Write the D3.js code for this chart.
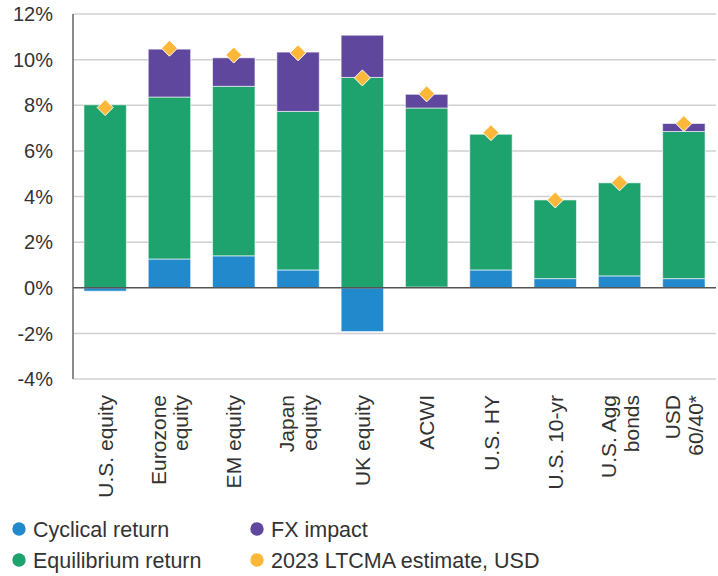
<html>
<script src="https://cdn.jsdelivr.net/npm/d3@7"></script>
<body style="margin:0">
<svg width="718" height="576"></svg>
<script>
// asset classes, label lines, return components (%)
var categories = ["U.S. equity", "Eurozone equity", "EM equity", "Japan equity", "UK equity", "ACWI", "U.S. HY", "U.S. 10-yr", "U.S. Agg bonds", "USD 60/40*"];
var labelLines = [["U.S. equity"], ["Eurozone", "equity"], ["EM equity"], ["Japan", "equity"], ["UK equity"], ["ACWI"], ["U.S. HY"], ["U.S. 10-yr"], ["U.S. Agg", "bonds"], ["USD", "60/40*"]];
var cyclical = [-0.15, 1.26, 1.4, 0.78, -1.92, 0.03, 0.78, 0.4, 0.52, 0.4];
var equilibrium = [8.02, 7.1, 7.43, 6.95, 9.22, 7.85, 5.95, 3.45, 4.08, 6.45];
var fxImpact = [0, 2.1, 1.25, 2.6, 1.85, 0.6, 0, 0, 0, 0.35];
var ltcma = [7.9, 10.5, 10.2, 10.3, 9.2, 8.5, 6.8, 3.85, 4.6, 7.2];
var yTicks = [-4, -2, 0, 2, 4, 6, 8, 10, 12];

var colors = {cyc: "#2389cd", eq: "#1fa36e", fx: "#5e479c", est: "#fdb83a"};
var font = "'Liberation Sans', Arial, sans-serif";
var textColor = "#333";

var svg = d3.select("svg");
var m = {left: 73, right: 716, top: 14, bottom: 379};

var data = categories.map(function(c, i) {
	return {cat: c, cyc: cyclical[i], eq: equilibrium[i], fx: fxImpact[i], est: ltcma[i], lines: labelLines[i]};
});

var x = d3.scaleBand()
	.domain(categories)
	.range([m.left, m.right])
	.paddingInner(0.34)
	.paddingOuter(0.17);
var y = d3.scaleLinear()
	.domain([-4, 12])
	.range([m.bottom, m.top]);

// grid
svg.append("g").selectAll("line")
	.data(yTicks.filter(function(t) { return t != 0; }))
	.enter().append("line")
	.attr("x1", m.left).attr("x2", m.right)
	.attr("y1", function(d) { return y(d); })
	.attr("y2", function(d) { return y(d); })
	.attr("stroke", "#d0d0d0")
	.attr("stroke-width", 1.5);

// y labels
svg.append("g").selectAll("text")
	.data(yTicks)
	.enter().append("text")
	.attr("x", 53)
	.attr("y", function(d) { return y(d); })
	.attr("dy", "0.36em")
	.attr("text-anchor", "end")
	.style("font-family", font)
	.style("font-size", "20px")
	.style("fill", textColor)
	.text(function(d) { return d + "%"; });

// stacked bars
var series = d3.stack()
	.keys(["cyc", "eq", "fx"])
	.offset(d3.stackOffsetDiverging)(data);

svg.append("g").selectAll("g")
	.data(series)
	.enter().append("g")
	.attr("fill", function(s) { return colors[s.key]; })
	.selectAll("rect")
	.data(function(s) { return s.filter(function(d) { return d[1] != d[0]; }); })
	.enter().append("rect")
	.attr("x", function(d) { return x(d.data.cat); })
	.attr("width", x.bandwidth())
	.attr("y", function(d) { return y(Math.max(d[0], d[1])); })
	.attr("height", function(d) { return Math.abs(y(d[0]) - y(d[1])); })
	.attr("stroke", "#ffffff")
	.attr("stroke-opacity", 0.6)
	.attr("stroke-width", 1);

// axes lines
svg.append("line")
	.attr("x1", m.left).attr("x2", m.right)
	.attr("y1", y(0)).attr("y2", y(0))
	.attr("stroke", "#555").attr("stroke-width", 1.5);
svg.append("line")
	.attr("x1", m.left).attr("x2", m.left)
	.attr("y1", m.top).attr("y2", m.bottom)
	.attr("stroke", "#666").attr("stroke-width", 1.5);

// LTCMA diamonds
svg.append("g").selectAll("path")
	.data(data)
	.enter().append("path")
	.attr("d", "M0,-8L8,0L0,8L-8,0Z")
	.attr("transform", function(d) { return "translate(" + (x(d.cat) + x.bandwidth() / 2) + "," + y(d.est) + ")"; })
	.attr("fill", colors.est)
	.attr("stroke", "#fff")
	.attr("stroke-width", 1);

// x labels (rotated)
var labels = svg.append("g").selectAll("g")
	.data(data)
	.enter().append("g")
	.attr("transform", function(d) { return "translate(" + (x(d.cat) + x.bandwidth() / 2) + ",395) rotate(-90)"; });
labels.selectAll("text")
	.data(function(d) { return d.lines.map(function(l, i) { return {t: l, i: i, n: d.lines.length}; }); })
	.enter().append("text")
	.attr("x", 0)
	.attr("y", function(d) { return (d.i - (d.n - 1) / 2) * 23; })
	.attr("dy", "0.36em")
	.attr("text-anchor", "end")
	.style("font-family", font)
	.style("font-size", "21px")
	.style("fill", textColor)
	.text(function(d) { return d.t; });

// legend
var legend = [
	{name: "Cyclical return", c: colors.cyc, x: 19, y: 529},
	{name: "FX impact", c: colors.fx, x: 257, y: 529},
	{name: "Equilibrium return", c: colors.eq, x: 19, y: 560},
	{name: "2023 LTCMA estimate, USD", c: colors.est, x: 257, y: 560}
];
var lg = svg.append("g").selectAll("g")
	.data(legend)
	.enter().append("g")
	.attr("transform", function(d) { return "translate(" + d.x + "," + d.y + ")"; });
lg.append("circle")
	.attr("r", 6.7)
	.attr("fill", function(d) { return d.c; });
lg.append("text")
	.attr("x", 14)
	.attr("dy", "0.36em")
	.style("font-family", font)
	.style("font-size", "21.5px")
	.style("fill", textColor)
	.text(function(d) { return d.name; });
</script>
</body>
</html>
